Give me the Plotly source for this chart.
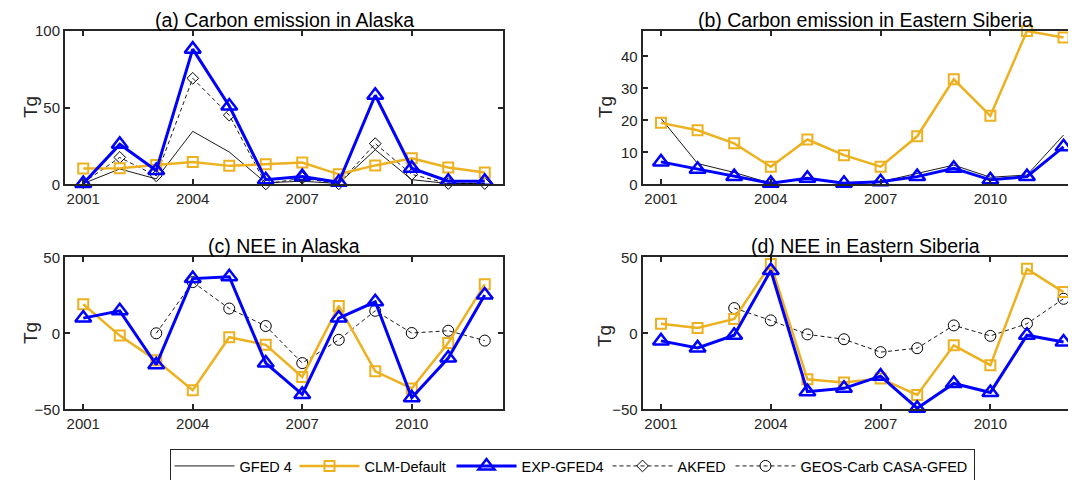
# Importa las bibliotecas necesarias
import plotly.graph_objects as go

# Años
anios = list(range(2001, 2013))

# (a) Emisión de carbono en Alaska
gfed4_ak = [0.5, 10, 3.5, 34.5, 21, 1, 2, 0.5, 22.5, 3, 0.5, 0.5]
clm_ak_emis = [10.3, 10.5, 12.5, 14.5, 12, 13, 14.2, 6.5, 12.3, 17, 11, 7.7]
exp_ak_emis = [0.5, 26, 9, 88, 51, 3, 5, 1.3, 58, 10.5, 2, 2]
akfed = [1, 17.5, 5.5, 69, 45, 0.2, 4, 0.3, 26.5, 6.5, 0.5, 0.5]

# (b) Emisión de carbono en Siberia Oriental
gfed4_es = [20.6, 6.5, 3.7, 0.3, 1.9, 0.5, 0.8, 3.4, 6, 2.2, 2.9, 15.4]
clm_es_emis = [19.2, 16.9, 12.8, 5.5, 14, 9.1, 5.5, 15, 32.8, 21.4, 47.9, 45.9]
exp_es_emis = [7, 4.7, 2.4, 0.3, 1.9, 0.3, 0.8, 2.4, 5, 1.4, 2.4, 11.7]

# (c) NEE en Alaska
clm_ak_nee = [19.1, -1.5, -17.8, -37.4, -2.6, -7.6, -28.7, 18, -25, -36.3, -6.3, 32.2]
exp_ak_nee = [10, 14.8, -20.7, 36, 37.2, -19.6, -40.2, 10, 20.7, -42.4, -16.3, 25.2]
geos_ak_nee = [None, None, 0, 33.7, 16.3, 4.8, -19.6, -4.3, 14.8, 0.2, 1.7, -4.8]

# (d) NEE en Siberia Oriental
clm_es_nee = [6.3, 3.5, 9.4, 45.6, -30.3, -32.3, -29.7, -40.6, -7.9, -21, 42.4, 27.1]
exp_es_nee = [-5, -9.6, -1.3, 41.3, -38.4, -36.2, -28.2, -49.3, -33, -38.9, -1.3, -5.7]
geos_es_nee = [None, None, 16.6, 8.5, -0.7, -3.9, -12.4, -9.8, 5.2, -1.7, 6.3, 22.7]

titulos = ["(a) Carbon emission in Alaska", "(b) Carbon emission in Eastern Siberia",
           "(c) NEE in Alaska", "(d) NEE in Eastern Siberia"]

NARANJA = "#EDB120"
AZUL = "#0000FF"
GRIS = "#262626"
FUENTE = "Liberation Sans, Arial, sans-serif"

# La página deja 8 px de margen: la figura se hace más pequeña para compensar
ANCHO, ALTO, MARGEN = 1068, 472, 8


def px_x(p):
    return (p - MARGEN) / ANCHO


def px_y(p):
    return 1 - (p - MARGEN) / ALTO


fig = go.Figure()


def gfed(y, ejes, leyenda):
    fig.add_trace(go.Scatter(x=anios, y=y, mode="lines", name="GFED 4",
                             line=dict(color="#000000", width=0.9),
                             legendgroup="gfed", showlegend=leyenda, legendrank=1, legendwidth=50,
                             xaxis=ejes[0], yaxis=ejes[1], cliponaxis=False))


def akfed_traza(y, ejes):
    fig.add_trace(go.Scatter(x=anios, y=y, mode="lines+markers", name="AKFED",
                             line=dict(color="#000000", width=0.9, dash="4px,3px"),
                             marker=dict(symbol="diamond-open", size=9, color="#000000",
                                         line=dict(width=1, color="#000000")),
                             legendgroup="akfed", showlegend=True, legendrank=4, legendwidth=48,
                             xaxis=ejes[0], yaxis=ejes[1], cliponaxis=False))


def geos(y, ejes, leyenda):
    fig.add_trace(go.Scatter(x=anios, y=y, mode="lines+markers", name="GEOS-Carb CASA-GFED",
                             line=dict(color="#000000", width=0.9, dash="4px,3px"),
                             marker=dict(symbol="circle-open", size=11, color="#000000",
                                         line=dict(width=1, color="#000000")),
                             legendgroup="geos", showlegend=leyenda, legendrank=5, legendwidth=168,
                             xaxis=ejes[0], yaxis=ejes[1], cliponaxis=False))


def clm(y, ejes, leyenda):
    fig.add_trace(go.Scatter(x=anios, y=y, mode="lines+markers", name="CLM-Default",
                             line=dict(color=NARANJA, width=2.5),
                             marker=dict(symbol="square-open", size=10, color=NARANJA,
                                         line=dict(width=2, color=NARANJA)),
                             legendgroup="clm", showlegend=leyenda, legendrank=2, legendwidth=82,
                             xaxis=ejes[0], yaxis=ejes[1], cliponaxis=False))


def exp(y, ejes, leyenda):
    fig.add_trace(go.Scatter(x=anios, y=y, mode="lines+markers", name="EXP-GFED4",
                             line=dict(color=AZUL, width=3),
                             marker=dict(symbol="triangle-up-open", size=14, color=AZUL,
                                         line=dict(width=2.5, color=AZUL)),
                             legendgroup="exp", showlegend=leyenda, legendrank=3, legendwidth=81,
                             xaxis=ejes[0], yaxis=ejes[1], cliponaxis=False))


# Panel (a)
gfed(gfed4_ak, ("x", "y"), True)
akfed_traza(akfed, ("x", "y"))
clm(clm_ak_emis, ("x", "y"), True)
exp(exp_ak_emis, ("x", "y"), True)
# Panel (b)
gfed(gfed4_es, ("x2", "y2"), False)
clm(clm_es_emis, ("x2", "y2"), False)
exp(exp_es_emis, ("x2", "y2"), False)
# Panel (c)
geos(geos_ak_nee, ("x3", "y3"), True)
clm(clm_ak_nee, ("x3", "y3"), False)
exp(exp_ak_nee, ("x3", "y3"), False)
# Panel (d)
geos(geos_es_nee, ("x4", "y4"), False)
clm(clm_es_nee, ("x4", "y4"), False)
exp(exp_es_nee, ("x4", "y4"), False)

dom_izq = [px_x(65), px_x(503)]
dom_der = [px_x(642.7), 1.0]
dom_arr = [px_y(184.3), px_y(30.7)]
dom_abj = [px_y(409.3), px_y(257.3)]

eje_x = dict(tickvals=[2001, 2004, 2007, 2010], ticks="inside", ticklen=5, tickwidth=1.5,
             tickcolor=GRIS, showline=True, linecolor=GRIS, linewidth=2, mirror="ticks",
             showgrid=False, zeroline=False, automargin=False,
             tickfont=dict(size=15, color=GRIS, family=FUENTE))
eje_y = dict(ticks="inside", ticklen=5, tickwidth=1.5, tickcolor=GRIS, showline=True,
             linecolor=GRIS, linewidth=2, showgrid=False, zeroline=False, automargin=False,
             tickfont=dict(size=15, color=GRIS, family=FUENTE))

fig.update_layout(
    width=ANCHO, height=ALTO,
    margin=dict(l=0, r=0, t=0, b=0, autoexpand=False),
    paper_bgcolor="white", plot_bgcolor="white",
    font=dict(family=FUENTE, color=GRIS),
    xaxis=dict(eje_x, domain=dom_izq, range=[2000.5, 2012.5], anchor="y"),
    yaxis=dict(eje_y, domain=dom_arr, range=[0, 100], tickvals=[0, 50, 100], mirror="ticks", anchor="x"),
    xaxis2=dict(eje_x, domain=dom_der, range=[2000.5, 2012.34], anchor="y2"),
    yaxis2=dict(eje_y, domain=dom_arr, range=[0, 48], tickvals=[0, 10, 20, 30, 40], mirror=False, anchor="x2"),
    xaxis3=dict(eje_x, domain=dom_izq, range=[2000.5, 2012.5], anchor="y3"),
    yaxis3=dict(eje_y, domain=dom_abj, range=[-50, 50], tickvals=[-50, 0, 50], mirror="ticks", anchor="x3"),
    xaxis4=dict(eje_x, domain=dom_der, range=[2000.5, 2012.34], anchor="y4"),
    yaxis4=dict(eje_y, domain=dom_abj, range=[-50, 50], tickvals=[-50, 0, 50], mirror=False, anchor="x4"),
    legend=dict(orientation="h", x=px_x(572), y=px_y(466), xanchor="center", yanchor="middle",
                bordercolor=GRIS, borderwidth=1, bgcolor="white", itemwidth=60,
                font=dict(size=14.5, color="#000000", family=FUENTE)),
)

# Títulos de cada panel (los de arriba pegados al borde superior)
pos_titulos = [(284, None), (865, None), (284, 246), (865, 246)]
for texto, (px, py) in zip(titulos, pos_titulos):
    if py is None:
        yy, ancla = 1.0, "top"
    else:
        yy, ancla = px_y(py), "middle"
    fig.add_annotation(x=px_x(px), y=yy, xref="paper", yref="paper", text=texto,
                       showarrow=False, font=dict(size=19.5, color="#000000", family=FUENTE),
                       xanchor="center", yanchor=ancla, borderpad=0)

# Etiquetas "Tg" de los ejes y
for px, py in [(30, 107), (605, 107), (30, 333), (604, 336)]:
    fig.add_annotation(x=px_x(px), y=px_y(py), xref="paper", yref="paper", text="Tg",
                       textangle=-90, showarrow=False,
                       font=dict(size=19, color=GRIS, family=FUENTE),
                       xanchor="center", yanchor="middle")

fig.write_html("out.html")
